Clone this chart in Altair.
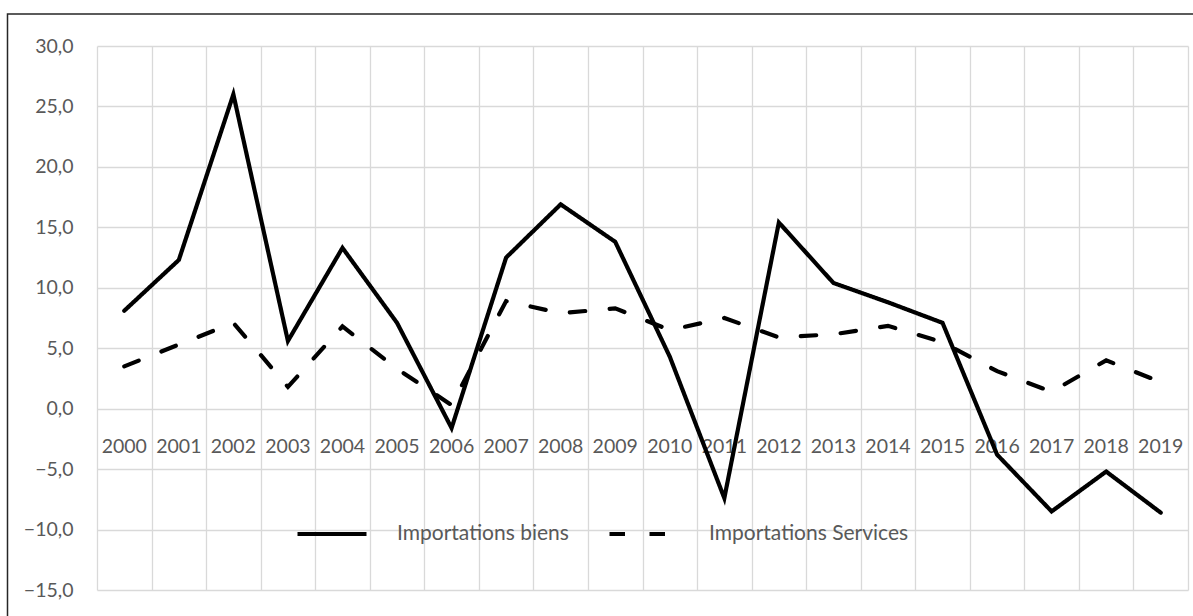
import altair as alt
import pandas as pd

# Annual growth of imports (%), goods vs services
years = [str(y) for y in range(2000, 2020)]
biens = [8.1, 12.3, 26.0, 5.6, 13.3, 7.1, -1.6, 12.5, 16.9, 13.8,
         4.3, -7.4, 15.4, 10.4, 8.8, 7.1, -3.8, -8.5, -5.2, -8.6]
services = [3.5, 5.3, 7.1, 1.8, 6.8, 3.3, 0.3, 8.9, 7.9, 8.3,
            6.5, 7.5, 5.9, 6.15, 6.85, 5.5, 3.1, 1.4, 4.0, 2.2]
series_names = ["Importations biens", "Importations Services"]
y_ticks = [-15, -10, -5, 0, 5, 10, 15, 20, 25, 30]

FONT = "Lato"
GREY = "#595959"
GRID = "#d9d9d9"

df = pd.DataFrame({"year": years, series_names[0]: biens, series_names[1]: services})
long_df = df.melt("year", var_name="serie", value_name="valeur")
years_df = pd.DataFrame({"year": years})

x_enc = alt.X(
    "year:O",
    scale=alt.Scale(type="band", paddingInner=0, paddingOuter=0),
    bandPosition=0.5,
    sort=years,
    axis=alt.Axis(labels=False, ticks=False, domain=False, grid=True,
                  tickBand="extent", gridColor=GRID, gridWidth=1.3, title=None),
)
y_scale = alt.Scale(domain=[-15, 30], nice=False, zero=False)

# year labels sit just under the zero line
year_labels = alt.Chart(years_df).mark_text(
    font=FONT, fontSize=19.5, color=GREY, baseline="middle", dy=38
).encode(
    x=x_enc,
    y=alt.datum(0, scale=y_scale),
    text="year:N",
)

lines = alt.Chart(long_df).mark_line(
    color="black", strokeWidth=4.2, strokeJoin="miter", strokeCap="round"
).encode(
    x=x_enc,
    y=alt.Y(
        "valeur:Q",
        scale=y_scale,
        axis=alt.Axis(
            values=y_ticks,
            labelExpr="replace(format(datum.value, '.1f'), '.', ',')",
            grid=True, gridColor=GRID, gridWidth=1.3,
            domain=False, ticks=False, labelPadding=24,
            labelFont=FONT, labelFontSize=19.5, labelColor=GREY, title=None,
        ),
    ),
    strokeDash=alt.StrokeDash(
        "serie:N",
        scale=alt.Scale(domain=series_names, range=[[1, 0], [15.5, 24.5]]),
        legend=alt.Legend(
            orient="none", legendX=198, legendY=451, direction="horizontal",
            title=None, symbolType="stroke", symbolSize=4761,
            symbolStrokeWidth=4.2, symbolStrokeColor="black",
            labelFont=FONT, labelFontSize=21, labelColor=GREY,
            labelOffset=28, columnPadding=32, padding=0, labelLimit=400,
        ),
    ),
)

# outer frame of the chart
frame = alt.Chart(pd.DataFrame({"k": [0]})).mark_rect(
    filled=False, stroke="#262626", strokeWidth=1.5
).encode(
    x=alt.value(-89.5), x2=alt.value(1300),
    y=alt.value(-32), y2=alt.value(800),
)

chart = alt.layer(year_labels, lines, frame).properties(
    width=1091, height=544,
    padding={"left": 97, "top": 46, "right": 5, "bottom": 26},
    autosize=alt.AutoSizeParams(type="none"),
    background="white",
).configure_view(stroke=None)

chart.save("out.html", embed_options={"renderer": "svg", "actions": False})
